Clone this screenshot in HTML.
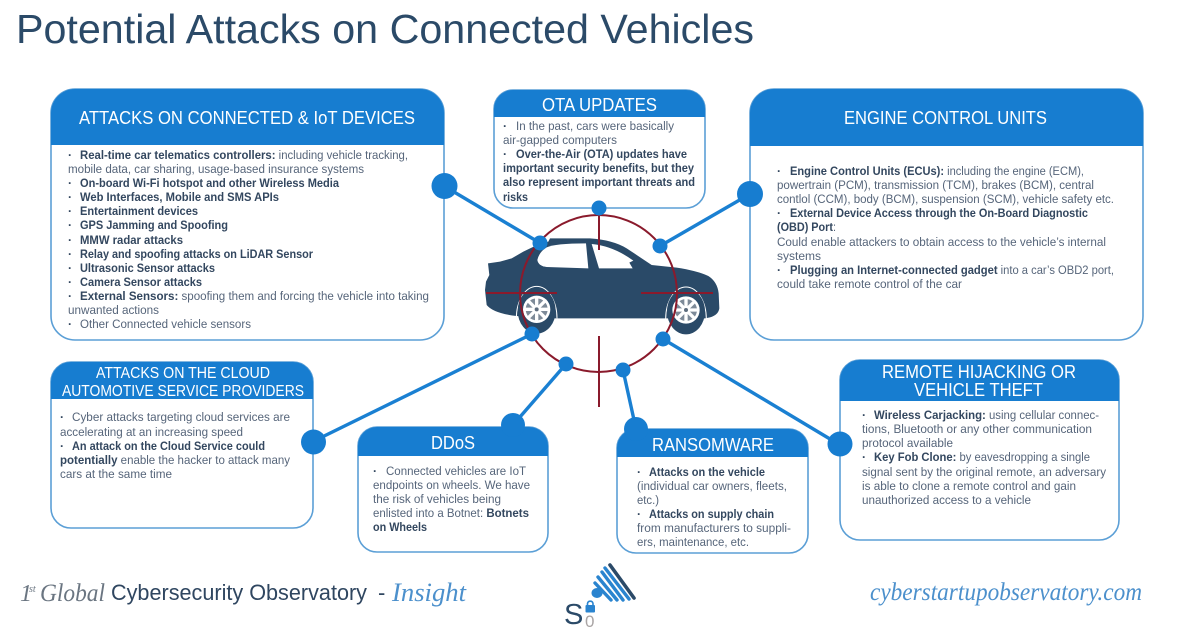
<!DOCTYPE html>
<html lang="en"><head><meta charset="utf-8"><title>Potential Attacks on Connected Vehicles</title>
<style>
html,body{margin:0;padding:0;background:#fff;width:1200px;height:628px;overflow:hidden}
svg{display:block}
text{font-family:"Liberation Sans",sans-serif}
.n{font-size:12.2px;fill:#56657a}
.n tspan.b,.b{font-weight:bold;fill:#33475f}
.h{fill:#fff;text-anchor:start}
.box{fill:#fff;stroke:#5b9fd6;stroke-width:1.6}
.hd{fill:#177dd0}
.c{stroke:#1a80d2;stroke-width:3.4;fill:none}
.d{fill:#177dd0}
.r{stroke:#8a1a2c;stroke-width:2;fill:none}
.hw{font-family:"Liberation Serif",serif;font-style:italic}
</style></head><body>
<svg width="1200" height="628" viewBox="0 0 1200 628" xmlns="http://www.w3.org/2000/svg">
<rect width="1200" height="628" fill="#fff"/>
<text x="16" y="43" font-size="41" fill="#2b4a68" textLength="738" lengthAdjust="spacingAndGlyphs">Potential Attacks on Connected Vehicles</text>

<!-- connectors -->
<g class="c">
<line x1="444" y1="186" x2="540" y2="243"/>
<line x1="750" y1="194" x2="660" y2="246"/>
<line x1="314" y1="441" x2="532" y2="334"/>
<line x1="513" y1="425" x2="566" y2="364"/>
<line x1="636" y1="429" x2="623" y2="370"/>
<line x1="840" y1="445" x2="663" y2="339"/>
</g>

<!-- car -->
<g transform="translate(480 210) scale(.33333)">
<path fill="#2a4a68" d="M15,240 L18,215 L28,195 L24,160 L60,155 L95,145 L130,125 L165,108 L205,95 L210,85 L330,85 Q400,90 440,115 L515,165 L590,173 Q650,182 685,198 Q712,215 716,250 L718,295 Q715,315 690,322 L675,325 L228,325 L110,318 Q40,310 20,285 Z"/>
<path fill="#fff" d="M172,150 Q178,125 200,112 Q225,100 318,100 L325,175 L200,171 Q175,168 172,150 Z"/>
<path fill="#fff" d="M335,102 Q400,108 460,152 L448,158 L458,175 L357,175 Z"/>
<g id="wh">
<path d="M109,325 A61,96 0 0 1 231,325" fill="none" stroke="#fff" stroke-width="3"/>
<ellipse cx="170" cy="302" rx="57" ry="69" fill="#2a4a68"/>
<circle cx="170" cy="298" r="41" fill="#fff"/>
<circle cx="170" cy="298" r="33" fill="#7d8a98"/>
<g stroke="#fff" stroke-width="10">
<line x1="170" y1="262" x2="170" y2="334"/>
<line x1="134" y1="298" x2="206" y2="298"/>
<line x1="145" y1="273" x2="195" y2="323"/>
<line x1="195" y1="273" x2="145" y2="323"/>
</g>
<circle cx="170" cy="298" r="6" fill="#5d6d7e"/>
</g>
<use href="#wh" x="448" y="2"/>
</g>

<!-- crosshair -->
<g class="r">
<circle cx="598.500" cy="293.500" r="78.500"/>
<line x1="599" y1="215" x2="599" y2="250"/>
<line x1="599" y1="336" x2="599" y2="407"/>
<line x1="486" y1="293" x2="557" y2="293"/>
<line x1="641" y1="293" x2="713" y2="293"/>
</g>

<!-- box 1 -->
<rect class="box" x="51" y="89" width="393" height="251" rx="24"/>
<path class="hd" d="M51,145 V113 A24,24 0 0 1 75,89 H420 A24,24 0 0 1 444,113 V145 Z"/>
<text class="h" x="79" y="124" font-size="18.500" textLength="336" lengthAdjust="spacingAndGlyphs">ATTACKS ON CONNECTED &amp; IoT DEVICES</text>
<g class="n">
<text x="68" y="159" class="b">·</text>
<text x="80" y="159" textLength="328" lengthAdjust="spacingAndGlyphs"><tspan class="b">Real-time car telematics controllers:</tspan> including vehicle tracking,</text>
<text x="68" y="173" textLength="296" lengthAdjust="spacingAndGlyphs">mobile data, car sharing, usage-based insurance systems</text>
<text x="68" y="187" class="b">·</text><text x="80" y="187" class="b" textLength="259" lengthAdjust="spacingAndGlyphs">On-board Wi-Fi hotspot and other Wireless Media</text>
<text x="68" y="201" class="b">·</text><text x="80" y="201" class="b" textLength="199" lengthAdjust="spacingAndGlyphs">Web Interfaces, Mobile and SMS APIs</text>
<text x="68" y="215" class="b">·</text><text x="80" y="215" class="b" textLength="118" lengthAdjust="spacingAndGlyphs">Entertainment devices</text>
<text x="68" y="229" class="b">·</text><text x="80" y="229" class="b" textLength="148" lengthAdjust="spacingAndGlyphs">GPS Jamming and Spoofing</text>
<text x="68" y="244" class="b">·</text><text x="80" y="244" class="b" textLength="103" lengthAdjust="spacingAndGlyphs">MMW radar attacks</text>
<text x="68" y="258" class="b">·</text><text x="80" y="258" class="b" textLength="233" lengthAdjust="spacingAndGlyphs">Relay and spoofing attacks on LiDAR Sensor</text>
<text x="68" y="272" class="b">·</text><text x="80" y="272" class="b" textLength="135" lengthAdjust="spacingAndGlyphs">Ultrasonic Sensor attacks</text>
<text x="68" y="286" class="b">·</text><text x="80" y="286" class="b" textLength="122" lengthAdjust="spacingAndGlyphs">Camera Sensor attacks</text>
<text x="68" y="300" class="b">·</text>
<text x="80" y="300" textLength="349" lengthAdjust="spacingAndGlyphs"><tspan class="b">External Sensors:</tspan> spoofing them and forcing the vehicle into taking</text>
<text x="68" y="314" textLength="91" lengthAdjust="spacingAndGlyphs">unwanted actions</text>
<text x="68" y="328" class="b">·</text><text x="80" y="328" textLength="171" lengthAdjust="spacingAndGlyphs">Other Connected vehicle sensors</text>
</g>

<!-- OTA -->
<rect class="box" x="494" y="90" width="211" height="118" rx="19"/>
<path class="hd" d="M494,117 V109 A19,19 0 0 1 513,90 H686 A19,19 0 0 1 705,109 V117 Z"/>
<text class="h" x="542" y="111" font-size="18.500" textLength="115" lengthAdjust="spacingAndGlyphs">OTA UPDATES</text>
<g class="n">
<text x="503" y="130" class="b">·</text><text x="516" y="130" textLength="158" lengthAdjust="spacingAndGlyphs">In the past, cars were basically</text>
<text x="503" y="144" textLength="114" lengthAdjust="spacingAndGlyphs">air-gapped computers</text>
<text x="503" y="158" class="b">·</text><text x="516" y="158" class="b" textLength="171" lengthAdjust="spacingAndGlyphs">Over-the-Air (OTA) updates have</text>
<text x="503" y="172" class="b" textLength="191" lengthAdjust="spacingAndGlyphs">important security benefits, but they</text>
<text x="503" y="186" class="b" textLength="192" lengthAdjust="spacingAndGlyphs">also represent important threats and</text>
<text x="503" y="201" class="b" textLength="25" lengthAdjust="spacingAndGlyphs">risks</text>
</g>

<!-- ECU -->
<rect class="box" x="750" y="89" width="393" height="251" rx="24"/>
<path class="hd" d="M750,146 V113 A24,24 0 0 1 774,89 H1119 A24,24 0 0 1 1143,113 V146 Z"/>
<text class="h" x="844" y="124" font-size="18.500" textLength="203" lengthAdjust="spacingAndGlyphs">ENGINE CONTROL UNITS</text>
<g class="n">
<text x="777" y="175" class="b">·</text>
<text x="790" y="175" textLength="294" lengthAdjust="spacingAndGlyphs"><tspan class="b">Engine Control Units (ECUs):</tspan> including the engine (ECM),</text>
<text x="777" y="189" textLength="317" lengthAdjust="spacingAndGlyphs">powertrain (PCM), transmission (TCM), brakes (BCM), central</text>
<text x="777" y="203" textLength="337" lengthAdjust="spacingAndGlyphs">contlol (CCM), body (BCM), suspension (SCM), vehicle safety etc.</text>
<text x="777" y="217" class="b">·</text><text x="790" y="217" class="b" textLength="298" lengthAdjust="spacingAndGlyphs">External Device Access through the On-Board Diagnostic</text>
<text x="777" y="231" textLength="59" lengthAdjust="spacingAndGlyphs"><tspan class="b">(OBD) Port</tspan>:</text>
<text x="777" y="246" textLength="329" lengthAdjust="spacingAndGlyphs">Could enable attackers to obtain access to the vehicle’s internal</text>
<text x="777" y="260" textLength="44" lengthAdjust="spacingAndGlyphs">systems</text>
<text x="777" y="274" class="b">·</text>
<text x="790" y="274" textLength="324" lengthAdjust="spacingAndGlyphs"><tspan class="b">Plugging an Internet-connected gadget</tspan> into a car’s OBD2 port,</text>
<text x="777" y="288" textLength="185" lengthAdjust="spacingAndGlyphs">could take remote control of the car</text>
</g>

<!-- Cloud -->
<rect class="box" x="51" y="362" width="262" height="166" rx="20"/>
<path class="hd" d="M51,399 V382 A20,20 0 0 1 71,362 H293 A20,20 0 0 1 313,382 V399 Z"/>
<text class="h" x="96" y="378" font-size="15.500" textLength="174" lengthAdjust="spacingAndGlyphs">ATTACKS ON THE CLOUD</text>
<text class="h" x="62" y="396" font-size="15.500" textLength="242" lengthAdjust="spacingAndGlyphs">AUTOMOTIVE SERVICE PROVIDERS</text>
<g class="n">
<text x="60" y="421" class="b">·</text><text x="72" y="421" textLength="218" lengthAdjust="spacingAndGlyphs">Cyber attacks targeting cloud services are</text>
<text x="60" y="436" textLength="183" lengthAdjust="spacingAndGlyphs">accelerating at an increasing speed</text>
<text x="60" y="450" class="b">·</text><text x="72" y="450" class="b" textLength="193" lengthAdjust="spacingAndGlyphs">An attack on the Cloud Service could</text>
<text x="60" y="464" textLength="230" lengthAdjust="spacingAndGlyphs"><tspan class="b">potentially</tspan> enable the hacker to attack many</text>
<text x="60" y="478" textLength="112" lengthAdjust="spacingAndGlyphs">cars at the same time</text>
</g>

<!-- DDoS -->
<rect class="box" x="358" y="427" width="190" height="125" rx="19"/>
<path class="hd" d="M358,456 V446 A19,19 0 0 1 377,427 H529 A19,19 0 0 1 548,446 V456 Z"/>
<text class="h" x="431" y="449" font-size="18.500" textLength="44" lengthAdjust="spacingAndGlyphs">DDoS</text>
<g class="n">
<text x="373" y="475" class="b">·</text><text x="386" y="475" textLength="140" lengthAdjust="spacingAndGlyphs">Connected vehicles are IoT</text>
<text x="373" y="489" textLength="157" lengthAdjust="spacingAndGlyphs">endpoints on wheels. We have</text>
<text x="373" y="503" textLength="128" lengthAdjust="spacingAndGlyphs">the risk of vehicles being</text>
<text x="373" y="517" textLength="156" lengthAdjust="spacingAndGlyphs">enlisted into a Botnet: <tspan class="b">Botnets</tspan></text>
<text x="373" y="531" class="b" textLength="54" lengthAdjust="spacingAndGlyphs">on Wheels</text>
</g>

<!-- Ransomware -->
<rect class="box" x="617" y="429" width="191" height="124" rx="19"/>
<path class="hd" d="M617,457 V448 A19,19 0 0 1 636,429 H789 A19,19 0 0 1 808,448 V457 Z"/>
<text class="h" x="652" y="451" font-size="18.500" textLength="122" lengthAdjust="spacingAndGlyphs">RANSOMWARE</text>
<g class="n">
<text x="637" y="476" class="b">·</text><text x="649" y="476" class="b" textLength="116" lengthAdjust="spacingAndGlyphs">Attacks on the vehicle</text>
<text x="637" y="490" textLength="150" lengthAdjust="spacingAndGlyphs">(individual car owners, fleets,</text>
<text x="637" y="504" textLength="22" lengthAdjust="spacingAndGlyphs">etc.)</text>
<text x="637" y="518" class="b">·</text><text x="649" y="518" class="b" textLength="125" lengthAdjust="spacingAndGlyphs">Attacks on supply chain</text>
<text x="637" y="532" textLength="154" lengthAdjust="spacingAndGlyphs">from manufacturers to suppli-</text>
<text x="637" y="546" textLength="112" lengthAdjust="spacingAndGlyphs">ers, maintenance, etc.</text>
</g>

<!-- Remote -->
<rect class="box" x="840" y="360" width="279" height="180" rx="20"/>
<path class="hd" d="M840,401 V380 A20,20 0 0 1 860,360 H1099 A20,20 0 0 1 1119,380 V401 Z"/>
<text class="h" x="882" y="378" font-size="18" textLength="194" lengthAdjust="spacingAndGlyphs">REMOTE HIJACKING OR</text>
<text class="h" x="914" y="396" font-size="18" textLength="129" lengthAdjust="spacingAndGlyphs">VEHICLE THEFT</text>
<g class="n">
<text x="862" y="419" class="b">·</text>
<text x="874" y="419" textLength="225" lengthAdjust="spacingAndGlyphs"><tspan class="b">Wireless Carjacking:</tspan> using cellular connec-</text>
<text x="862" y="433" textLength="230" lengthAdjust="spacingAndGlyphs">tions, Bluetooth or any other communication</text>
<text x="862" y="447" textLength="91" lengthAdjust="spacingAndGlyphs">protocol available</text>
<text x="862" y="461" class="b">·</text>
<text x="874" y="461" textLength="216" lengthAdjust="spacingAndGlyphs"><tspan class="b">Key Fob Clone:</tspan> by eavesdropping a single</text>
<text x="862" y="476" textLength="244" lengthAdjust="spacingAndGlyphs">signal sent by the original remote, an adversary</text>
<text x="862" y="490" textLength="214" lengthAdjust="spacingAndGlyphs">is able to clone a remote control and gain</text>
<text x="862" y="504" textLength="169" lengthAdjust="spacingAndGlyphs">unauthorized access to a vehicle</text>
</g>

<!-- dots -->
<g class="d">
<circle cx="540" cy="243" r="7.500"/><circle cx="599" cy="208" r="7.500"/><circle cx="660" cy="246" r="7.500"/>
<circle cx="532" cy="334" r="7.500"/><circle cx="566" cy="364" r="7.500"/><circle cx="623" cy="370" r="7.500"/><circle cx="663" cy="339" r="7.500"/>
<circle cx="444.500" cy="186" r="13"/><circle cx="750" cy="194" r="13"/><circle cx="313.500" cy="442" r="12.500"/><circle cx="840" cy="444" r="12.500"/>
<circle cx="513" cy="425" r="12"/><circle cx="636" cy="429" r="12"/>
</g>

<!-- footer -->
<text class="hw" x="20" y="601" font-size="24" fill="#6a7581">1</text>
<text class="hw" x="29" y="592" font-size="10" fill="#6a7581">st</text>
<text class="hw" x="40" y="601" font-size="25" fill="#6a7581" textLength="65" lengthAdjust="spacingAndGlyphs">Global</text>
<text x="111" y="600" font-size="22" fill="#2f4660" textLength="256" lengthAdjust="spacingAndGlyphs">Cybersecurity Observatory</text>
<text x="378" y="600" font-size="22" fill="#2f4660">-</text>
<text class="hw" x="392" y="601" font-size="26" fill="#4c90cc" textLength="74" lengthAdjust="spacingAndGlyphs">Insight</text>
<text class="hw" x="870" y="600" font-size="25" fill="#4c90cc" textLength="272" lengthAdjust="spacingAndGlyphs">cyberstartupobservatory.com</text>

<!-- logo -->
<g stroke-linecap="round">
<line x1="610" y1="565" x2="634" y2="598" stroke="#2b4a68" stroke-width="3.600"/>
<g stroke="#2a84cf" stroke-width="3.400">
<line x1="605" y1="568" x2="629" y2="599"/>
<line x1="602" y1="572" x2="623" y2="600"/>
<line x1="598" y1="577" x2="617" y2="600"/>
<line x1="595" y1="583" x2="611" y2="600"/>
</g>
<ellipse cx="597" cy="593" rx="5.500" ry="5" fill="#2a84cf"/>
</g>
<text x="564" y="624" font-size="29" fill="#2b4a68">S</text>
<rect x="585.500" y="605" width="9.500" height="7.500" rx="1" fill="#2a84cf"/>
<path d="M587.500,605 V603.500 A2.800,2.800 0 0 1 593,603.500 V605" fill="none" stroke="#2a84cf" stroke-width="1.600"/>
<text x="585" y="627" font-size="17" fill="#a9a4a4">0</text>
</svg>
</body></html>
